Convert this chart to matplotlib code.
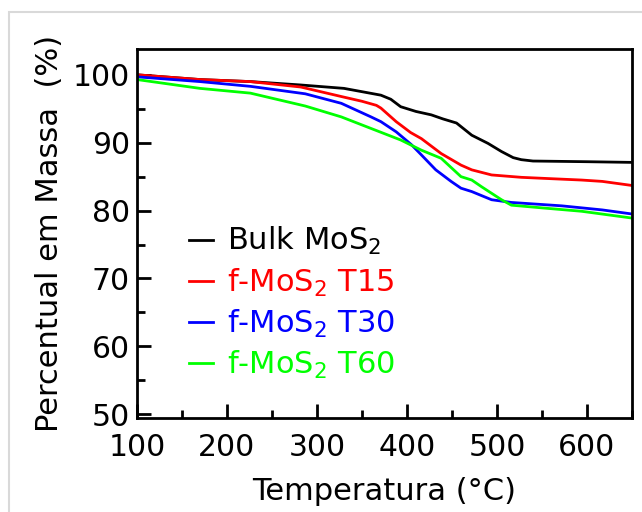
import matplotlib
matplotlib.use("Agg")
import matplotlib.pyplot as plt
from matplotlib.patches import Rectangle
from matplotlib.ticker import MultipleLocator

plt.rcParams['font.family'] = ['DejaVu Sans']
plt.rcParams['mathtext.default'] = 'regular'

# temperature (C) and mass (%)
temp_bulk = [100, 170, 226, 282, 330, 371, 382, 393, 410, 427, 440, 455, 472, 490, 505, 518, 527, 540, 600, 650]
mass_bulk = [100.0, 99.3, 99.0, 98.5, 98.0, 97.0, 96.4, 95.3, 94.6, 94.1, 93.5, 92.9, 91.1, 89.9, 88.7, 87.8, 87.5, 87.3, 87.2, 87.1]

temp_t15 = [100, 170, 226, 282, 327, 350, 366, 371, 388, 404, 416, 438, 460, 472, 494, 527, 560, 594, 617, 650]
mass_t15 = [100.0, 99.3, 99.0, 98.2, 96.8, 96.1, 95.5, 95.1, 93.1, 91.5, 90.6, 88.4, 86.7, 86.0, 85.25, 84.9, 84.7, 84.5, 84.3, 83.7]

temp_t30 = [100, 170, 226, 287, 327, 360, 371, 388, 405, 416, 432, 449, 460, 472, 494, 516, 572, 617, 650]
mass_t30 = [99.7, 99.0, 98.3, 97.2, 95.8, 93.8, 93.1, 91.6, 89.7, 88.2, 86.0, 84.3, 83.3, 82.8, 81.6, 81.2, 80.7, 80.1, 79.5]

temp_t60 = [100, 170, 226, 287, 327, 360, 393, 416, 438, 460, 472, 483, 505, 516, 550, 594, 650]
mass_t60 = [99.3, 98.0, 97.3, 95.4, 93.8, 92.1, 90.4, 88.9, 87.7, 85.0, 84.5, 83.5, 81.6, 80.8, 80.4, 79.9, 78.9]

series = [
    (temp_bulk, mass_bulk, 'black', 'Bulk MoS$_2$'),
    (temp_t15, mass_t15, '#ff0000', 'f-MoS$_2$ T15'),
    (temp_t30, mass_t30, '#0000ff', 'f-MoS$_2$ T30'),
    (temp_t60, mass_t60, '#00ff00', 'f-MoS$_2$ T60'),
]

fig = plt.figure(figsize=(6.42, 5.12), dpi=100)
# light frame around the whole picture
fig.patches.append(Rectangle((9 / 642, -0.1), 1.2, 1 - 12 / 512 + 0.1,
                             transform=fig.transFigure, fill=False,
                             edgecolor='#d9d9d9', linewidth=1.5))

ax = fig.add_axes([0.2134, 0.1842, 0.7710, 0.7201])
for t, m, c, lab in series:
    ax.plot(t, m, color=c, linewidth=2, label=lab)

ax.set_xlim(100, 650)
ax.set_ylim(49.5, 103.8)
ax.xaxis.set_major_locator(MultipleLocator(100))
ax.xaxis.set_minor_locator(MultipleLocator(50))
ax.yaxis.set_major_locator(MultipleLocator(10))
ax.yaxis.set_minor_locator(MultipleLocator(5))
ax.tick_params(which='both', direction='in', width=2, labelsize=21.5)
ax.tick_params(which='major', length=10)
ax.tick_params(which='minor', length=6)
ax.tick_params(axis='x', pad=11)
ax.tick_params(axis='y', pad=5)
for s in ax.spines.values():
    s.set_linewidth(2)

ax.set_xlabel('Temperatura (°C)', fontsize=22, labelpad=11)
ax.set_ylabel('Percentual em Massa  (%)', fontsize=22, labelpad=6)

leg = ax.legend(loc='upper left', bbox_to_anchor=(0.08, 0.555), frameon=False,
                fontsize=22, handlelength=0.8, handletextpad=0.45,
                labelspacing=0.3, borderaxespad=0)
for txt, (_, _, c, _) in zip(leg.get_texts(), series):
    txt.set_color(c)

fig.savefig('out.png', dpi=100)
